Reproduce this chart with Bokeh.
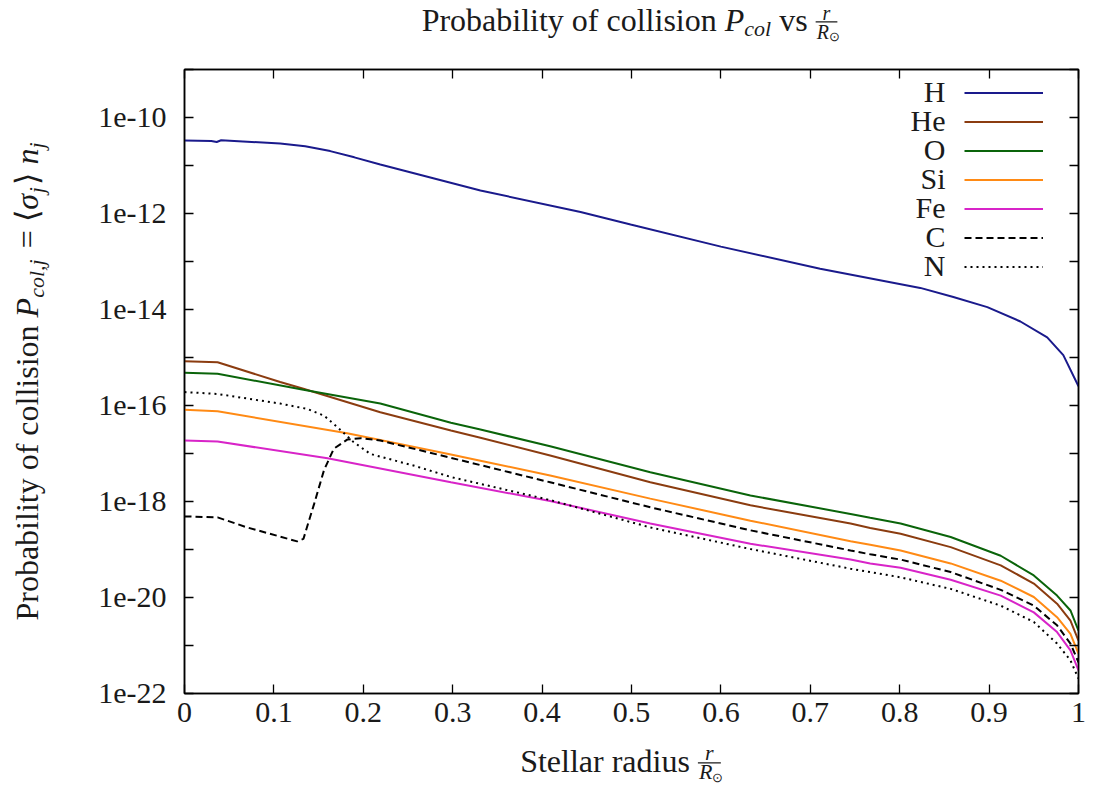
import math
from bokeh.plotting import figure
from bokeh.layouts import column, row
from bokeh.core.properties import value
from bokeh.models import (FixedTicker, LinearAxis, LogAxis, CustomJSTickFormatter,
                          Legend, LegendItem, Label, PolyAnnotation)
from bokeh.embed import file_html
from bokeh.resources import INLINE

# ---------------- data: log10 of P_col ----------------
x_H = [0.0, 0.030, 0.036, 0.041, 0.107, 0.135, 0.163, 0.190, 0.219, 0.331, 0.443, 0.499, 0.600,
       0.711, 0.823, 0.860, 0.898, 0.935, 0.965, 0.983, 1.0]
log_H = [-10.48, -10.49, -10.51, -10.475, -10.54, -10.60, -10.70, -10.83, -10.98, -11.52, -11.97, -12.23, -12.69,
         -13.15, -13.55, -13.74, -13.95, -14.25, -14.58, -14.95, -15.60]

x_He = [0.0, 0.037, 0.107, 0.133, 0.219, 0.298, 0.331, 0.409, 0.521, 0.633, 0.745,
        0.767, 0.801, 0.857, 0.913, 0.950, 0.976, 0.991, 1.0]
log_He = [-15.08, -15.10, -15.51, -15.65, -16.14, -16.52, -16.67, -17.04, -17.60, -18.08, -18.46,
          -18.55, -18.67, -18.95, -19.33, -19.71, -20.13, -20.48, -20.90]

x_O = [0.0, 0.037, 0.133, 0.219, 0.298, 0.331, 0.409, 0.521, 0.633, 0.745,
       0.767, 0.801, 0.857, 0.913, 0.950, 0.976, 0.991, 1.0]
log_O = [-15.32, -15.34, -15.67, -15.96, -16.36, -16.50, -16.85, -17.39, -17.875, -18.26,
         -18.34, -18.46, -18.74, -19.13, -19.54, -19.96, -20.27, -20.69]

x_Si = [0.0, 0.037, 0.182, 0.298, 0.331, 0.409, 0.521, 0.633, 0.745,
        0.767, 0.801, 0.857, 0.913, 0.950, 0.976, 0.991, 1.0]
log_Si = [-16.09, -16.12, -16.58, -17.02, -17.15, -17.46, -17.94, -18.40, -18.83,
          -18.90, -19.02, -19.29, -19.65, -19.99, -20.41, -20.76, -21.17]

x_Fe = [0.0, 0.037, 0.160, 0.298, 0.409, 0.521, 0.633, 0.745,
        0.767, 0.801, 0.857, 0.913, 0.950, 0.976, 0.991, 1.0]
log_Fe = [-16.73, -16.75, -17.10, -17.60, -17.99, -18.46, -18.88, -19.21,
          -19.29, -19.38, -19.63, -19.96, -20.31, -20.72, -21.10, -21.52]

x_C = [0.0, 0.037, 0.070, 0.126, 0.133, 0.145, 0.156, 0.167, 0.182, 0.197, 0.219,
       0.298, 0.409, 0.521, 0.633, 0.745, 0.767, 0.801, 0.857, 0.913, 0.950, 0.976, 0.991, 1.0]
log_C = [-18.31, -18.33, -18.54, -18.83, -18.78, -18.05, -17.35, -16.90, -16.71, -16.68, -16.73,
         -17.09, -17.60, -18.12, -18.60, -19.02, -19.10, -19.21, -19.47, -19.84, -20.17, -20.58, -20.96, -21.35]

x_N = [0.0, 0.037, 0.107, 0.137, 0.156, 0.171, 0.189, 0.208, 0.256, 0.298, 0.409, 0.521,
       0.633, 0.745, 0.767, 0.801, 0.857, 0.913, 0.950, 0.976, 0.991, 1.0]
log_N = [-15.72, -15.76, -15.96, -16.07, -16.21, -16.45, -16.76, -17.01, -17.25, -17.49, -17.97, -18.54,
         -18.99, -19.40, -19.47, -19.58, -19.82, -20.17, -20.51, -20.96, -21.31, -21.69]

names = ["H", "He", "O", "Si", "Fe", "C", "N"]
xs = [x_H, x_He, x_O, x_Si, x_Fe, x_C, x_N]
logs = [log_H, log_He, log_O, log_Si, log_Fe, log_C, log_N]
colors = ["#1a1a8c", "#8b3c10", "#0a640a", "#ff8a14", "#d824c8", "black", "black"]
dashes = ["solid", "solid", "solid", "solid", "solid", "7 4", "2 4"]

x_ticks = [0.0, 0.1, 0.2, 0.3, 0.4, 0.5, 0.6, 0.7, 0.8, 0.9, 1.0]
y_major = [1e-22, 1e-20, 1e-18, 1e-16, 1e-14, 1e-12, 1e-10]
y_minor = [1e-21, 1e-19, 1e-17, 1e-15, 1e-13, 1e-11, 1e-9]

# ---------------- page geometry (canvas pixels) ----------------
W, H = 1095, 789
FL, FR, FT, FB = 184, 1078, 69, 693      # plot frame
TITLE_H = 56                              # strip for the title
YLAB_W = 60                               # strip for the y label
XLAB_TOP = 738                            # strip for the x label starts here

TXT = "#1a1a1a"
FONT = "Liberation Serif"
BASE_FIX = 0.40    # Bokeh draws alphabetic labels this many em lower than asked
VSHIFT = 45        # rotated labels come out this many pixels higher than asked


def blank(w, h):
    f = figure(width=w, height=h, x_range=(0, 1), y_range=(0, 1),
               x_axis_location=None, y_axis_location=None, toolbar_location=None,
               output_backend="svg", min_border=0, outline_line_color=None,
               background_fill_color="white", border_fill_color="white")
    f.grid.visible = False
    return f


# ---------------- main figure ----------------
p = figure(width=W - YLAB_W, height=XLAB_TOP - TITLE_H, x_range=(0, 1), y_range=(1e-22, 1e-9),
           y_axis_type="log", output_backend="svg", toolbar_location=None,
           min_border_left=FL - YLAB_W, min_border_right=W - FR,
           min_border_top=FT - TITLE_H, min_border_bottom=XLAB_TOP - FB,
           background_fill_color="white", border_fill_color="white",
           outline_line_color="black", outline_line_width=1.5)
p.xgrid.visible = False
p.ygrid.visible = False


def style_axis(ax, labels=True):
    ax.axis_line_color = "black"
    ax.axis_line_width = 1.5
    ax.major_tick_line_color = "black"
    ax.major_tick_line_width = 1.3
    ax.minor_tick_line_color = "black"
    ax.minor_tick_line_width = 1.3
    ax.major_tick_in = 9
    ax.major_tick_out = 0
    ax.minor_tick_in = 9
    ax.minor_tick_out = 0
    ax.major_label_text_font = FONT
    ax.major_label_text_color = TXT
    ax.major_label_text_font_size = "30px"
    if not labels:
        ax.major_label_standoff = 0


xfmt = CustomJSTickFormatter(code="return tick.toFixed(1).replace(/\\.0$/, '');")
yfmt = CustomJSTickFormatter(code="return '1e' + Math.round(Math.log10(tick));")
nofmt = CustomJSTickFormatter(code="return '';")

xa = p.xaxis[0]
xa.ticker = FixedTicker(ticks=x_ticks, minor_ticks=[])
xa.formatter = xfmt
style_axis(xa)
xa.major_label_standoff = 9

ya = p.yaxis[0]
ya.ticker = FixedTicker(ticks=y_major, minor_ticks=y_minor)
ya.formatter = yfmt
style_axis(ya)
ya.major_label_standoff = 18

top = LinearAxis(ticker=FixedTicker(ticks=x_ticks, minor_ticks=[]), formatter=nofmt)
style_axis(top, labels=False)
p.add_layout(top, "above")
right = LogAxis(ticker=FixedTicker(ticks=y_major, minor_ticks=y_minor), formatter=nofmt)
style_axis(right, labels=False)
p.add_layout(right, "right")

rends = []
for nm, xv, lv, c, d in zip(names, xs, logs, colors, dashes):
    yv = [10.0 ** v for v in lv]
    rends.append(p.line(xv, yv, line_color=c, line_width=2, line_dash=d))

# legend: samples drawn by Legend, names as right-aligned text to their left
ROW = 29
LEG_X0 = 964
LEG_TOP = 78
legend = Legend(items=[LegendItem(label=" ", renderers=[r]) for r in rends],
                location=(LEG_X0 - FL, FB - (LEG_TOP + ROW * len(rends))),
                glyph_width=79, glyph_height=ROW, label_height=ROW, label_width=0,
                label_standoff=0, spacing=0, padding=0, margin=0,
                border_line_alpha=0, background_fill_alpha=0,
                label_text_font_size="10px")
p.add_layout(legend)


def make_label(**kw):
    lbl = Label(**kw)
    try:
        lbl.text_font = value(FONT)
    except Exception:
        lbl.text_font = FONT
    return lbl


def put(fig, left, bottom, text, X, Y, size, italic=False, align="left", vertical=False):
    """Horizontal: baseline start at canvas (X, Y).
    Vertical (reads upwards): text starts at height Y, baseline at column X."""
    if vertical:
        X -= 0.89 * size
        Y += VSHIFT
        baseline = "top"
    else:
        Y -= BASE_FIX * size
        baseline = "alphabetic"
    fig.add_layout(make_label(x=X - left, y=bottom - Y, x_units="screen", y_units="screen", text=text,
                              text_font_size=f"{size}px",
                              text_font_style="italic" if italic else "normal",
                              text_align=align, text_baseline=baseline,
                              angle=math.pi / 2 if vertical else 0.0, text_color=TXT))


for i, nm in enumerate(names):
    put(p, FL, FB, nm, LEG_X0 - 19, LEG_TOP + ROW * i + ROW / 2 + 10, 30, align="right")

# ---------------- math-like labels composed from text pieces ----------------
REG = {' ': 250, 'P': 556, 'r': 333, 'o': 500, 'b': 500, 'a': 444, 'i': 278, 'l': 278, 't': 278,
       'y': 500, 'f': 333, 'c': 444, 's': 389, 'n': 500, 'v': 500, 'S': 556, 'e': 444, 'd': 500,
       'u': 500, '=': 564, '⟨': 390, '⟩': 390, ',': 250}
ITA = {'P': 611, 'c': 444, 'o': 500, 'l': 278, ',': 250, 'j': 278, 'n': 500, 'r': 389, 'R': 611,
       'σ': 520, '⊙': 840}


def wid(s, size, italic=False):
    tab = ITA if italic else REG
    return sum(tab.get(ch, 500) for ch in s) * size / 1000.0


def chain(fig, left, bottom, pieces, start, base, vertical=False):
    """Lay out pieces (text, size, italic, shift, extra gap after) one after another."""
    pos = start
    sgn = -1 if vertical else 1
    for t, s, it, sh, gap in pieces:
        core = t.strip(" ")
        lead = len(t) - len(t.lstrip(" "))
        trail = len(t) - len(t.rstrip(" "))
        pos += sgn * wid(" " * lead, s)
        if vertical:
            put(fig, left, bottom, core, base + sh, pos, s, it, vertical=True)
        else:
            put(fig, left, bottom, core, pos, base + sh, s, it)
        pos += sgn * (wid(core, s, it) + wid(" " * trail, s) + gap)
    return pos


def total_width(pieces):
    return sum(wid(t, s, it) + g for t, s, it, _, g in pieces)


T, S = 32, 22


def frac_w(s):
    return wid("R", s, True) + wid("⊙", 13) + 3


def fraction(fig, left, bottom, X, Y, s, num_up):
    fw = frac_w(s)
    fig.add_layout(PolyAnnotation(xs=[X - left, X + fw - left, X + fw - left, X - left],
                                  ys=[bottom - (Y - 10), bottom - (Y - 10), bottom - (Y - 11.3), bottom - (Y - 11.3)],
                                  xs_units="screen", ys_units="screen",
                                  fill_color=TXT, fill_alpha=1.0, line_alpha=0))
    put(fig, left, bottom, "r", X + fw / 2, Y - num_up, s, True, align="center")
    put(fig, left, bottom, "R", X + 1, Y + 7, s, True)
    put(fig, left, bottom, "⊙", X + 1 + wid("R", s, True), Y + 9, 13)


# title strip
TB = 32   # title baseline
tfig = blank(W, TITLE_H)
pieces = [("Probability of collision ", T, False, 0, 0), ("P", T, True, 0, 0),
          ("col", S, True, 5, 0), (" vs ", T, False, 0, 0)]
X0 = 629 - (total_width(pieces) + frac_w(20)) / 2
Xe = chain(tfig, 0, TITLE_H, pieces, X0, TB)
fraction(tfig, 0, TITLE_H, Xe, TB, 20, 12)

# x-label strip
xfig = blank(W, H - XLAB_TOP)
pieces = [("Stellar radius ", T, False, 0, 0)]
X0 = 620 - (total_width(pieces) + frac_w(S)) / 2
Xe = chain(xfig, 0, H, pieces, X0, 773)
fraction(xfig, 0, H, Xe, 773, S, 12.5)

# y-label strip (rotated, reading upwards)
yfig = blank(YLAB_W, XLAB_TOP - TITLE_H)
pieces = [("Probability of collision ", T, False, 0, 0), ("P", T, True, 0, 0), ("col,j", S, True, 6, 3),
          (" = ⟨", T, False, 0, 0), ("σ", T, True, 0, 0), ("j", S, True, 6, 2), ("⟩ ", T, False, 0, 0),
          ("n", T, True, 0, 0), ("j", S, True, 6, 0)]
Y0 = (FT + FB) / 2 + total_width(pieces) / 2
chain(yfig, 0, XLAB_TOP, pieces, Y0, 37, vertical=True)

page = column(tfig, row(yfig, p), xfig)
open("out.html", "w").write(file_html(page, INLINE))
